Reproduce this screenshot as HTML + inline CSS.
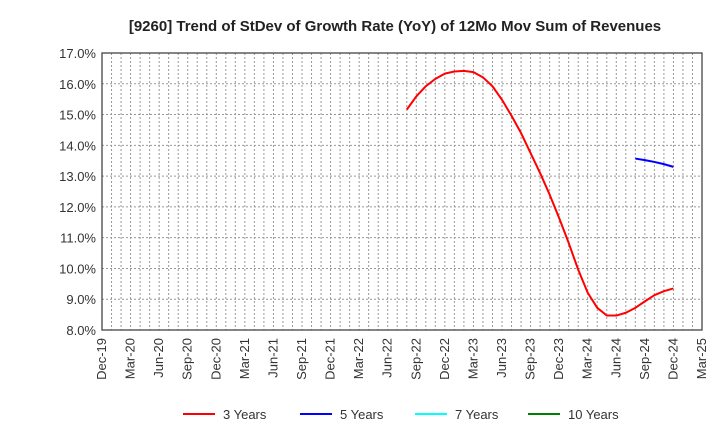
<!DOCTYPE html>
<html><head><meta charset="utf-8"><style>
body{margin:0;background:#fff;font-family:"Liberation Sans",Arial,sans-serif}
svg text{font-family:"Liberation Sans",Arial,sans-serif}
</style></head><body>
<svg width="720" height="440" xmlns="http://www.w3.org/2000/svg" id="svg">
<text x="395" y="31" text-anchor="middle" font-size="15" font-weight="bold" fill="#222">[9260]  Trend of StDev of Growth Rate (YoY) of 12Mo Mov Sum of Revenues</text>
<g id="grid"></g><g id="axes"></g><g id="series"></g>
<g font-size="13" fill="#333">
<line x1="183" y1="414" x2="215" y2="414" stroke="#ff0000" stroke-width="2"/><text x="223" y="419">3 Years</text>
<line x1="300" y1="414" x2="332" y2="414" stroke="#0000ff" stroke-width="2"/><text x="340" y="419">5 Years</text>
<line x1="415" y1="414" x2="447" y2="414" stroke="#00ffff" stroke-width="2"/><text x="455" y="419">7 Years</text>
<line x1="528" y1="414" x2="560" y2="414" stroke="#008000" stroke-width="2"/><text x="568" y="419">10 Years</text>
</g>
</svg>
<script>
const xTickLabels=["Dec-19","Mar-20","Jun-20","Sep-20","Dec-20","Mar-21","Jun-21","Sep-21","Dec-21","Mar-22","Jun-22","Sep-22","Dec-22","Mar-23","Jun-23","Sep-23","Dec-23","Mar-24","Jun-24","Sep-24","Dec-24","Mar-25"];
const yTicks=[8,9,10,11,12,13,14,15,16,17];
const red3Start=32;
const red3=[15.16,15.59,15.92,16.16,16.33,16.40,16.42,16.38,16.21,15.92,15.48,14.96,14.40,13.75,13.10,12.40,11.64,10.83,9.96,9.21,8.72,8.47,8.47,8.56,8.72,8.93,9.13,9.26,9.35];
const blue5Start=56;
const blue5=[13.57,13.52,13.46,13.39,13.30];
const L=102,R=702,T=53,B=330,N=63;
const xs=i=>L+(R-L)*i/N, ys=v=>B-(v-8)/9*(B-T);
const NS="http://www.w3.org/2000/svg";
function mk(t,a,p){const e=document.createElementNS(NS,t);for(const k in a)e.setAttribute(k,a[k]);p.appendChild(e);return e;}
const g=document.getElementById('grid'),ax=document.getElementById('axes'),s=document.getElementById('series');
for(let i=1;i<N;i++){const l=mk('line',{x1:xs(i),x2:xs(i),y1:T,y2:B,stroke:'#999','stroke-dasharray':'2,2','stroke-width':1},g);

}
yTicks.forEach(v=>{if(v>8&&v<17){const l=mk('line',{x1:L,x2:R,y1:ys(v),y2:ys(v),stroke:'#999','stroke-dasharray':'2,2'},g);

}
const t=mk('text',{x:L-6,y:ys(v)+5,'text-anchor':'end','font-size':13,fill:'#333'},ax);t.textContent=v.toFixed(1)+'%';

});
xTickLabels.forEach((lb,k)=>{const x=xs(k*3);const t=mk('text',{transform:`translate(${x+4},${B+8}) rotate(-90)`,'text-anchor':'end','font-size':13,fill:'#333'},ax);t.textContent=lb;

});
const fr=mk('rect',{x:L,y:T,width:R-L,height:B-T,fill:'none',stroke:'#444','stroke-width':1.3},ax);


function line(arr,st,c,name){const p=mk('polyline',{points:arr.map((v,i)=>xs(st+i)+','+ys(v)).join(' '),fill:'none',stroke:c,'stroke-width':2,'stroke-linejoin':'round'},s);

}
line(red3,red3Start,'#ff0000','series-3-years');
line(blue5,blue5Start,'#0000ff','series-5-years');
</script>
</body></html>
